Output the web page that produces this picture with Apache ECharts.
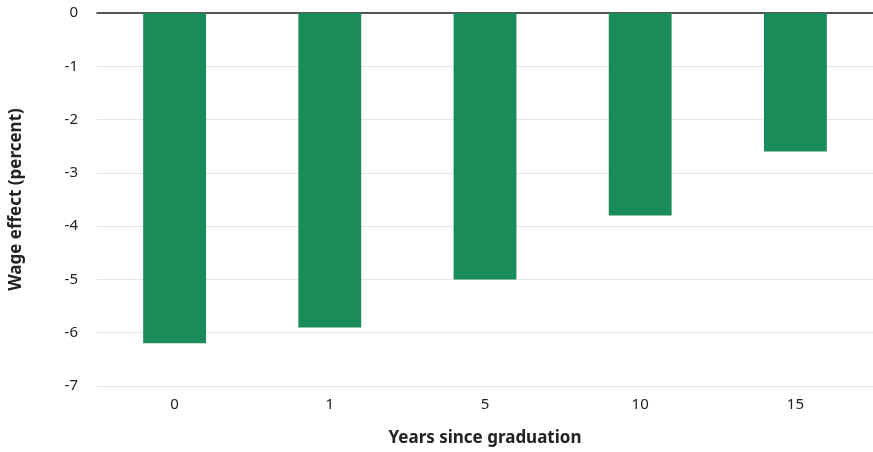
<!DOCTYPE html>
<html><head><meta charset="utf-8">
<script src="https://cdn.jsdelivr.net/npm/echarts@6/dist/echarts.min.js"></script>
<style>html,body{margin:0;padding:0;background:#fff}#c{width:873px;height:452px}</style>
</head><body><div id="c"></div>
<script>
var categories = ['0', '1', '5', '10', '15'];
var values = [-6.2, -5.9, -5.0, -3.8, -2.6];
var xName = 'Years since graduation';
var yName = 'Wage effect (percent)';
var font = 'Noto Sans';
var chart = echarts.init(document.getElementById('c'));
chart.setOption({
  animation: false,
  grid: { left: 95, right: 0, top: 13, bottom: 64, containLabel: false },
  xAxis: [{
    type: 'category', data: categories, position: 'bottom',
    axisLine: { show: false, onZero: false }, axisTick: { show: false },
    axisLabel: { color: '#222', fontSize: 15, fontFamily: font, margin: 11 },
    name: xName, nameLocation: 'middle', nameGap: 44,
    nameTextStyle: { color: '#222', fontSize: 17, fontWeight: 'bold', fontFamily: font }
  }, {
    type: 'category', data: categories, position: 'top',
    axisLine: { show: true, onZero: false, lineStyle: { color: '#222', width: 1.5 } },
    axisTick: { show: false }, axisLabel: { show: false }
  }],
  yAxis: {
    type: 'value', min: -7, max: 0, interval: 1,
    axisLine: { show: false }, axisTick: { show: false },
    axisLabel: { color: '#222', fontSize: 15, fontFamily: font, margin: 19 },
    splitLine: { lineStyle: { color: '#e3e3e3', width: 1 } },
    name: yName, nameLocation: 'middle', nameGap: 72,
    nameTextStyle: { color: '#222', fontSize: 17, fontWeight: 'bold', fontFamily: font }
  },
  series: [{
    type: 'bar', data: values, barWidth: '40.5%', xAxisIndex: 0,
    itemStyle: { color: '#1a8c5a' }
  }]
});
</script></body></html>
